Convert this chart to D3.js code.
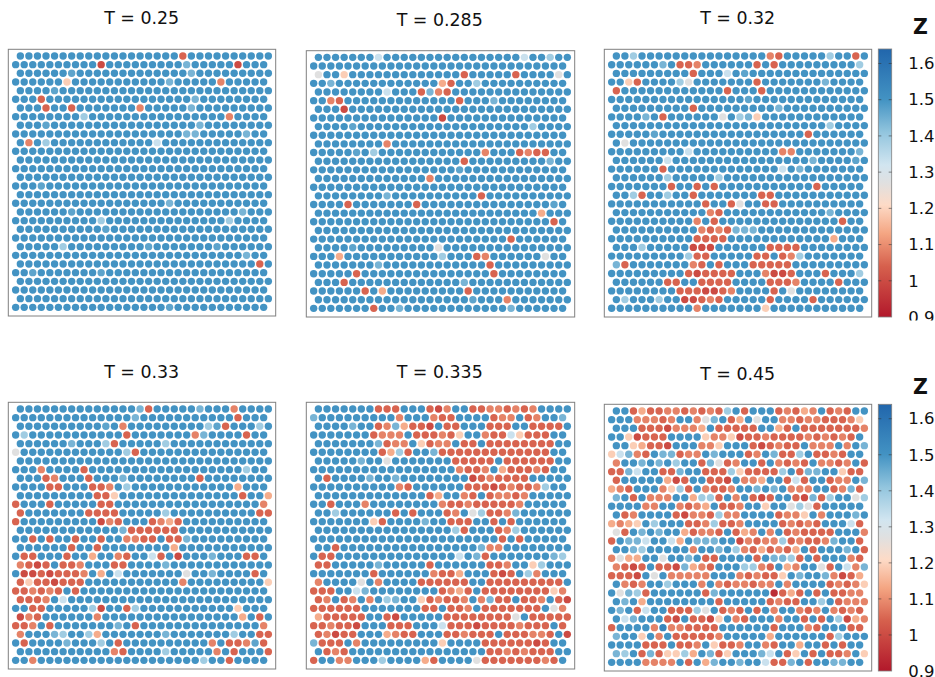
<!DOCTYPE html>
<html>
<head>
<meta charset="utf-8">
<script src="https://cdnjs.cloudflare.com/ajax/libs/d3/7.8.5/d3.min.js"></script>
<style>
html, body { margin: 0; padding: 0; background: #fff; }
svg { display: block; }
text { font-family: "DejaVu Sans", sans-serif; fill: #111; }
</style>
</head>
<body>
<script>
// particle Z: one string per lattice row, one char per particle
var levelKeys = ["x", "0", "1", "2", "3", "4", "5", "6", "7", "8", "-", ".", "+"];
var levelValues = [0.94, 1.0, 1.045, 1.085, 1.14, 1.19, 1.27, 1.33, 1.39, 1.44, 1.47, 1.5, 1.54];

var temperatures = ["0.25", "0.285", "0.32", "0.33", "0.335", "0.45"];

var rowsT025 = [
"..... ..... ..... ....1 ..... .....",
"..... ..... 0.... ..... 8.... .0...",
"..... .-... ..... ..... 8.... .....",
"..... .4... ..... ...8. ....2 .....",
"....- ..... ..... ..... ..... .....",
"...1. ..... ..... ..... .8... .....",
"...1. .1... ....2 ..... 8.... .....",
"..... ...7. ..... ..... ..... 2....",
"...-. ..... ..... ..... .8... .....",
"..... ..... ..... ..... 88... ..8..",
".2.7. ..... ..... .6... ..... .....",
"", "", "", "",
"...-. ..... ..... ..... ..... .....",
"",
"..... ..... ..... ...8. ..... .....",
"..... .-... ..... ..... ..... .8...",
"..... ..... 7.... ..... ..... 7....",
"..... ..... -.... ..... ..... .....",
"",
"..... 7.... ..... -.... ...-. .....",
"..... ..... ..... ..... ..... ..8..",
"..... ..... ..... ..... ..... ...1.",
"..-.. ..... -.... ..... ..... .....",
"", "", "",
"..... ..... ..... ...-. ..... ....."
];

var rowsT0285 = [
"..... ..6.. ..... ..... ....6 ..7..",
"",
"5..4. ..... ..... ..1.. ...1. ...5.",
"..8.. ..... ..... 31..7 ..... .....",
"..... ...6. ..182 1.... ..... .....",
"..21. ..... ..... ..1.. .8... .....",
"...0. ..... ..... ..... ..... .....",
"..... ..... ..... 0.... ..... .....",
"....- ..... ..... ..... ..... 7....",
"",
"..... ...2. ..... ..... ..... .....",
"..... -.7.. ..... ..... 2...1 211..",
"..... ..... ..... ..1.. ..... ..8..",
"..... ..... ..... ..-.. ..... .....",
"..... ..... ...2. ..... ..... .....",
"",
"..... ...8. ..... ....1 ..... .....",
"....1 ..... ..1.. ..... ..... ...-.",
"..... ..... ..... ..... ..... .3...",
"..... ..... ..... ..... ..... ...1.",
"",
"..... ..... ..... ..... ...1. .....",
"....- ..... ....5 ..... ..... .....",
"...3. ..... ..... 7...1 2.... ..5..",
"..... ..8.. ..... ..... 1.... .....",
"..... 1.... ..... ..... .1... .....",
"...1. ..... ..... ..8.. ..... .....",
"..... .1.3. ..... ...1. ..... .....",
"..... ..... ..... ...-. ..2.. .....",
"..... ..1.. 8.... ..... ...8. ....."
];

var rowsT032 = [
"..7.. ..... ..... ...21 ..... 7..1.",
"..... .8.11 2.... ..1.1 ..... ....7",
"..... ....1 ...6. -.... ..... .....",
"..41. ...75 ..... ..1.. ..... 8....",
"1.... ..... ...1. ..1.. ..... .....",
"..... ..... ..... .-... ..... .....",
"..... ....1 ..... ....8 ..... .....",
"....8 .1... ...5. 784.. ..... .....",
"..... ..... ..... ..... ..... 7....",
"..... -.... ..... ..... ...1. .....",
".5... ..... ..... ..... ..... .....",
"..... ....6 ..... ..... 22... ....8",
"..... .6... ..... ..... ...8. ...-.",
"..... .1... ..... ..... 6.8.. .....",
"..... .7... ..7.. ..... ..... .....",
"..... ..1.. 1.1.. ..... ....1 .....",
"..71. .7..1 ..... ..11. ..... .....",
"..... ..... .1..1 5..11 ..... .....",
"..... ..... .21.. ..... ..... 8....",
"..... ..... 2.1.. ..... ..... ..1..",
"..... ..... 21218 88... ..... .....",
"..... ..... 1111. ..... ..... .3...",
"...7. ....0 00... ...11 11... .....",
"..... ....7 11... ..11. 127.. .....",
"81... ....2 1.1.. .1111 1.... .....",
"..... ....1 01111 ...20 01... 1...7",
"..... .11.. 1111. ...11 12... .1...",
"..... ...11 10012 ....1 .5... .....",
".7... 7..00 121.. ...1. ...1. .....",
"..... ..... 2.... ...4. ..... ....."
];

var rowsT033 = [
"..... ..... ....8 1.... .8... 2....",
"..... ..... ....8 ..... ..... .1...",
"..... ..... -.2.. ..... ..7-1 ...7.",
".7... ..... ...1. ..... .28.. ..1..",
"..... .8... 71... ..7.. ..... .....",
"5.... ..... ...71 ..... ..... .....",
"",
"...2. ...1. ..... ..... ..... ..7..",
"...12 ...1. ..8.. ..... .1... .....",
"....1 1...1 12.7. ..... ..... .3...",
"..... ....1 14... ..... ..... .1..3",
"1...1 ..... 11... ..... ..... ....2",
"1.... ...11 11... ..7.. ..... ...11",
"1.... ..... 021.. .1231 ..... .....",
"..... ..... ..811 1111. ..... .....",
"..1.1 ..1.. 1..22 11.11 8.... .....",
"..... .1..1 ..... ...3. ..... .....",
".11.. .1..3 ..21. .61.0 ...8. ..11.",
"2101. 112.. .11.. ..8.. ..... .....",
".0010 1112. 3.6.. ..... 5..8. ...1.",
"14110 111.. ..... ....2 ..... ....4",
"11212 1.1.. ..... ..... ..... .....",
"1112. 6.... ..... ..... ..... .....",
"..11. ....7 0..17 ..... ..... .4...",
"021.. ....2 ..... ..... ..... .3.1.",
"112.1 ..... ..8.1 ..... ..... ....2",
"2...8 7..73 ..... ..8.. ..... 7..11",
".1... .8... 7.1.. ..... ...2. 112-1",
"..... ..... .21.. ..7.. ...2. 1...1",
"..2.. ..... ..... ..... ..7.. 1...."
];

var rowsT0335 = [
"..... ..111 ...10 2..11 22121 2....",
"8.... ..... 2...2 11... .122. 12..8",
"....8 ..128 3110. 11... 111.. 1111.",
"..... ..122 2.111 214.. 21164 111..",
"..... ..812 2.412 2.11. 11111 111..",
"..... ...13 71..8 11111 11111 111..",
"..... 8..5. ..... .1111 1.111 111..",
"..... ..... ..... ..211 2.311 121..",
".1... .8..8 ..... ...01 21111 .....",
"..... ..... 21... ...11 10121 127..",
"..... ..... ...13 ..21. 12212 .....",
"..1.. .2... ..... 21121 11112 .....",
"..7.. ....1 .1... 12.57 1128. .....",
"..... ..41. ...8. .111. .1.1. .....",
"..... ..... ..... .71.. .127. .....",
"..... ..... ..... ..... ..1.1 .....",
"..1.. ..... ..... ....8 22... .....",
".11.. ..... ..... ..6.8 1.... ...87",
"11... ..8.. ...1. ..... 112.. 47...",
"..... ..1.. ....2 113.. .101. 72...",
"2.... 5.2.. ..111 111.. 11111 1111.",
"111.. 68... ..... 1231. 11111 11142",
"12.12 .2.78 ..412 112.2 811.1 12.10",
"11111 1.... ...11 .112. 11111 11.52",
"31111 1..10 ..... 11111 1115. 11111",
"11211 0...1 11... 61110 11112 111.1",
"12011 ...32 11... 11211 1.111 221.0",
"8111. 2.... ..... 4.... 11111 101..",
".121. ..... ..... ..... 11212 111..",
"1..22 ...7. ...31 ....5 11111 1121."
];

var rowsT045 = [
"..131 12212 1217. 1...1 2132. 121..",
"...22 212.. 258.1 3.5.. 22122 11124",
"...11 10222 3.111 11..3 1.111 11112",
"..401 11... .4224 01121 11121 2121.",
"..431 10... 224.. .1012 11.22 2.2.8",
"46821 .8812 2.8.. .12.8 117.1 121..",
"2..8. 8.7.. 18512 ..1.2 121.2 212.1",
"1186. .118. .1117 41111 7.188 ..411",
"1.... .301. .110. 223.. 161.. 122.8",
"321.. .2471 .2112 ..8.8 .222. .1281",
"8.1.2 22..3 771.2 .101. .1081 7..57",
"....2 2..21 23.11 2..4. .5751 .....",
".12.. ..102 21722 ....1 224.2 ...8.",
"3234. 7...1 12711 2.... 12121 ...61",
"51.8. 8..31 221.1 32.2. 12111 1...2",
"1.886 ..63. 888.. 02122 71211 28..1",
"..87. ....2 ..8.7 21312 13.1. ..8.1",
"2533. .5..8 .11.. ..1.8 871.1 ...21",
"2101. 11083 21... 7721. 32..5 1.628",
"1110. 5.222 22... 21211 4.8.. 82013",
".212. .7... 2.212 2122. 2.... 12124",
".5871 ..... .18.. ....x 131.1 .1122",
".8.3. ..... ..1.. ...12 11..7 .1222",
".8.16 ..111 75.12 1.1.2 ..212 .2121",
".68.. .10.1 104.2 1...2 ..1.1 .7032",
"1.... 2+221 111.. ....1 ...21 ...11",
"8..4. 2.111 112.. ...3. ..... 17...",
"....1 11.11 2.411 2..21 ..3.. 1.1..",
"87.18 14473 .814. ..86. 14.1. 112.4",
"....2 222.1 .38.. 8..61 18.1. .88.."
];

var panelRows = [rowsT025, rowsT0285, rowsT032, rowsT033, rowsT0335, rowsT045];

// bar ticks
var barTicks = [0.9, 1, 1.1, 1.2, 1.3, 1.4, 1.5, 1.6];
var barTickLabels = ["0.9", "1", "1.1", "1.2", "1.3", "1.4", "1.5", "1.6"];

// layout, picture pixels
var boxes = [
    { x0: 8.3, x1: 275.7, y0: 49.3, y1: 316, tx: 141.7, ty: 24.3 },
    { x0: 306.3, x1: 574.7, y0: 50.7, y1: 317, tx: 439.7, ty: 25.7 },
    { x0: 604.3, x1: 871.7, y0: 49.3, y1: 317, tx: 737.7, ty: 24.3 },
    { x0: 8.3, x1: 275.7, y0: 402.3, y1: 669, tx: 141.7, ty: 377.7 },
    { x0: 306.3, x1: 574.7, y0: 402.3, y1: 669, tx: 439.7, ty: 377.7 },
    { x0: 604.3, x1: 871.7, y0: 404.3, y1: 671, tx: 737.7, ty: 379.7 }
];
var bars = [
    { x0: 878.3, x1: 891.7, y0: 49, y1: 317, zx: 920.5, zy: 33.5, clip: 320.5 },
    { x0: 878.3, x1: 891.7, y0: 404.3, y1: 671, zx: 920.5, zy: 393.5, clip: 677 }
];

var color = d3.scaleLinear()
    .domain([0.9, 1.04, 1.13, 1.21, 1.27, 1.32, 1.41, 1.5, 1.64])
    .range(["#b2182b", "#d6604d", "#f4a582", "#fddbc7", "#e0e0e0", "#d1e5f0", "#92c5de", "#4393c3", "#2166ac"]);

var level = d3.scaleOrdinal().domain(levelKeys).range(levelValues);

var svg = d3.select("body").append("svg")
    .attr("width", 935)
    .attr("height", 677);

function parseRows(rows) {
    var cells = [];
    rows.forEach(function(r, j) {
        var s = r.replace(/ /g, "").padEnd(30, ".");
        s.split("").forEach(function(c, i) {
            cells.push({ col: i + (j % 2 == 0 ? 0.55 : 0), row: j, z: level(c) });
        });
    });
    return cells;
}

function drawPanel(rows, box, t) {
    var x = d3.scaleLinear().domain([-0.86, 30.41]).range([box.x0, box.x1]);
    var y = d3.scaleLinear().domain([-0.77, 30]).range([box.y0, box.y1]);

    var g = svg.append("g").attr("class", "panel");

    g.selectAll("circle")
        .data(parseRows(rows))
      .enter().append("circle")
        .attr("cx", function(d) { return x(d.col); })
        .attr("cy", function(d) { return y(d.row); })
        .attr("r", 3.7)
        .attr("fill", function(d) { return color(d.z); });

    g.append("rect")
        .attr("x", box.x0)
        .attr("y", box.y0)
        .attr("width", box.x1 - box.x0)
        .attr("height", box.y1 - box.y0)
        .attr("fill", "none")
        .attr("stroke", "#808080")
        .attr("stroke-width", 1);

    g.append("text")
        .attr("x", box.tx)
        .attr("y", box.ty)
        .attr("text-anchor", "middle")
        .style("font-size", "17.4px")
        .text("T = " + t);
}

function drawBar(bar, i) {
    var y = d3.scaleLinear().domain([0.9, 1.64]).range([bar.y1, bar.y0]);

    var gradId = "zbar" + i;
    var grad = svg.append("defs").append("linearGradient")
        .attr("id", gradId)
        .attr("x1", 0).attr("x2", 0).attr("y1", 1).attr("y2", 0);
    grad.selectAll("stop")
        .data(color.domain())
      .enter().append("stop")
        .attr("offset", function(d) { return (d - 0.9) / 0.74; })
        .attr("stop-color", function(d) { return color(d); });

    svg.append("clipPath").attr("id", "barclip" + i)
      .append("rect")
        .attr("x", bar.x0 - 5).attr("y", bar.y0 - 40)
        .attr("width", 80).attr("height", bar.clip - bar.y0 + 40);

    var g = svg.append("g")
        .attr("class", "bar")
        .attr("clip-path", "url(#barclip" + i + ")");

    g.append("rect")
        .attr("x", bar.x0)
        .attr("y", bar.y0)
        .attr("width", bar.x1 - bar.x0)
        .attr("height", bar.y1 - bar.y0)
        .attr("fill", "url(#" + gradId + ")")
        .attr("stroke", "#808080")
        .attr("stroke-width", 0.8);

    var axis = d3.axisRight(y)
        .tickValues(barTicks)
        .tickFormat(function(d, k) { return barTickLabels[k]; })
        .tickSize(0)
        .tickPadding(16.6);

    var ag = g.append("g")
        .attr("transform", "translate(" + bar.x1 + ",0)")
        .call(axis);
    ag.select(".domain").remove();
    ag.selectAll("text")
        .style("font-family", "'DejaVu Sans', sans-serif")
        .style("font-size", "16.5px");

    // small inward marks on both edges, skipped at the bottom end
    [bar.x0, bar.x1 - 3].forEach(function(px) {
        g.selectAll(null)
            .data(barTicks.slice(1))
          .enter().append("line")
            .attr("x1", px).attr("x2", px + 3)
            .attr("y1", function(d) { return y(d); })
            .attr("y2", function(d) { return y(d); })
            .attr("stroke", "#333")
            .attr("stroke-opacity", 0.7)
            .attr("stroke-width", 0.8);
    });

    svg.append("text")
        .attr("x", bar.zx)
        .attr("y", bar.zy)
        .attr("text-anchor", "middle")
        .style("font-size", "20.5px")
        .style("font-weight", "bold")
        .text("Z");
}

panelRows.forEach(function(rows, i) {
    drawPanel(rows, boxes[i], temperatures[i]);
});
bars.forEach(drawBar);
</script>
</body>
</html>
